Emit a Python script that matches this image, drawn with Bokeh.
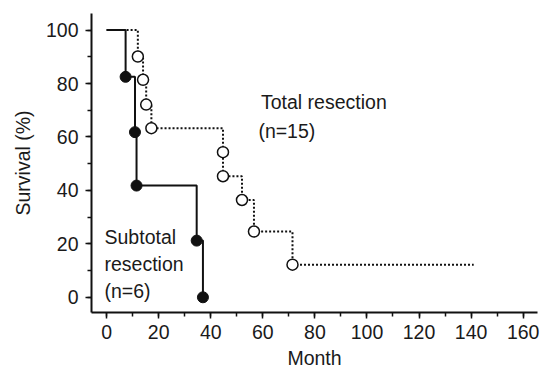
from bokeh.plotting import figure
from bokeh.models import Range1d, SingleIntervalTicker, Label
from bokeh.embed import file_html
from bokeh.resources import INLINE

# Subtotal resection (n=6): event times (months) and survival (%)
sub_times = [7.3, 10.9, 11.5, 34.6, 37.0]
sub_surv = [82.5, 61.8, 41.8, 21.2, 0.0]

# Total resection (n=15)
tot_times = [12.0, 14.0, 15.2, 17.2, 44.7, 44.7, 52.0, 56.6, 71.4]
tot_surv = [90.1, 81.4, 72.1, 63.3, 54.3, 45.3, 36.4, 24.6, 12.2]
tot_end = 141.0

FONT = "Liberation Sans"
FS = "19.5px"

p = figure(width=551, height=373, output_backend="svg", toolbar_location=None,
           x_range=Range1d(-5.8, 165.5), y_range=Range1d(-5.7, 106.2),
           min_border_left=91, min_border_right=14, min_border_top=13,
           min_border_bottom=61)
p.outline_line_color = None
p.grid.visible = False
p.background_fill_color = "white"

for ax in (p.xaxis[0], p.yaxis[0]):
    ax.axis_line_width = 2
    ax.axis_line_color = "#111111"
    ax.major_tick_line_width = 1.5
    ax.minor_tick_line_width = 1.5
    ax.major_tick_line_color = "#111111"
    ax.minor_tick_line_color = "#111111"
    ax.major_tick_out = 6
    ax.major_tick_in = 0
    ax.minor_tick_out = 4
    ax.minor_tick_in = 0
    ax.major_label_text_font = FONT
    ax.major_label_text_font_size = FS
    ax.major_label_text_color = "#1a1a1a"
    ax.axis_label_text_font = FONT
    ax.axis_label_text_font_size = FS
    ax.axis_label_text_font_style = "normal"
    ax.axis_label_text_color = "#1a1a1a"

p.xaxis.ticker = SingleIntervalTicker(interval=20, num_minor_ticks=2)
p.yaxis.ticker = SingleIntervalTicker(interval=20, num_minor_ticks=2)
p.xaxis.axis_label = "Month"
p.yaxis.axis_label = "Survival (%)"
p.xaxis.major_label_standoff = 6
p.yaxis.major_label_standoff = 7
p.xaxis.axis_label_standoff = 5
p.yaxis.axis_label_standoff = 9

# Step curves
tx = [0.0] + tot_times + [tot_end]
ty = [100.0] + tot_surv + [tot_surv[-1]]
p.step(tx, ty, mode="after", line_color="#111111", line_width=2, line_dash="2 2")

sx = [0.0] + sub_times
sy = [100.0] + sub_surv
p.step(sx, sy, mode="after", line_color="#111111", line_width=2)

p.scatter(tot_times, tot_surv, size=11, fill_color="white", line_color="#111111", line_width=1.5)
p.scatter(sub_times, sub_surv, size=11, fill_color="#111111", line_color="#111111", line_width=1)

def lab(x, y, t):
    p.add_layout(Label(x=x, y=y, text=t, text_font=FONT, text_font_size=FS,
                       text_color="#1a1a1a", text_align="left", text_baseline="middle"))

lab(59.3, 73.0, "Total resection")
lab(58.3, 62.4, "(n=15)")
lab(-0.8, 22.5, "Subtotal")
lab(-0.8, 12.6, "resection")
lab(-0.8, 2.5, "(n=6)")

open("out.html", "w").write(file_html(p, INLINE))
